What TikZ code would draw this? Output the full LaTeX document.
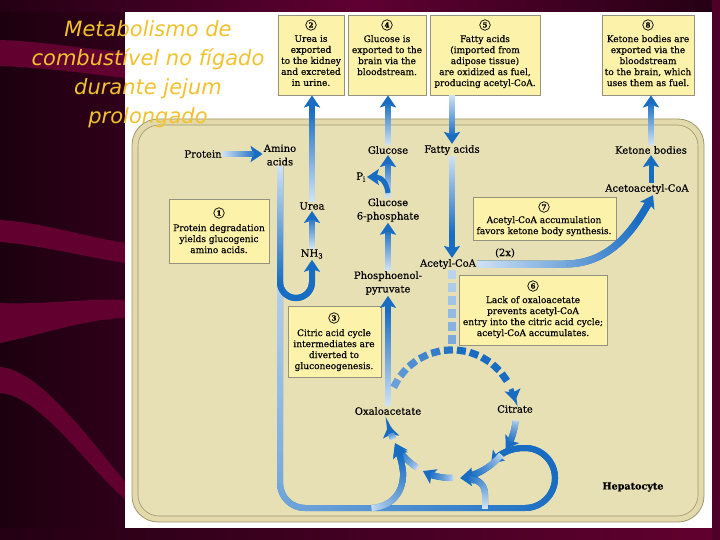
\documentclass[tikz,border=0pt]{standalone}
\usepackage{fontspec}
\setmainfont{DejaVu Serif}[FakeBold=0.35]
\newfontfamily\ttlfont{DejaVu Sans}
\usetikzlibrary{arrows.meta,decorations.markings}
\definecolor{bD}{RGB}{24,108,194}
\definecolor{bP}{RGB}{208,226,245}
\definecolor{bM}{RGB}{110,162,218}
\definecolor{bL}{RGB}{190,214,240}
\definecolor{bgd}{RGB}{36,0,20}
\definecolor{bgl}{RGB}{28,0,14}
\definecolor{bgr}{RGB}{48,0,26}
\definecolor{mar}{RGB}{98,0,48}
\definecolor{marT}{RGB}{96,0,50}
\definecolor{cellout}{RGB}{226,218,172}
\definecolor{cellin}{RGB}{231,224,180}
\definecolor{cellline}{RGB}{160,150,108}
\definecolor{boxfill}{RGB}{252,242,170}
\definecolor{boxline}{RGB}{150,146,128}
\definecolor{ttl}{RGB}{242,194,46}
\newcommand\gk{1.15}
\newcommand\gp{1}
\tikzset{
  gk/.code={\def\gk{#1}},
  gp/.code={\def\gp{#1}},
  g/.style={line width=#1, draw=bD, -{Stealth[width=16pt,length=12pt,inset=2.5pt]},
    postaction={decorate, decoration={markings,
      mark=between positions 0 and -9pt step 0.6pt with {%
        \pgfmathsetmacro\gt{100*(min(1,\gk*\pgfkeysvalueof{/pgf/decoration/mark info/distance from start}/\pgfdecoratedpathlength))^\gp}%
        \fill[bD!\gt!bP] (-0.5pt,-0.5*#1) rectangle (0.5pt,0.5*#1);}}}},
  g/.default=6pt,
  gs/.style={line width=5pt, draw=bD, -{Stealth[width=16pt,length=12pt,inset=2.5pt]}},
  gdash/.style 2 args={postaction={decorate, decoration={markings,
      mark=between positions 4pt and 1 step 13pt with {%
        \pgfmathsetmacro\gt{100*(min(1,\gk*\pgfkeysvalueof{/pgf/decoration/mark info/distance from start}/\pgfdecoratedpathlength))^\gp}%
        \fill[#2!\gt!#1] (-4.5pt,-3.6pt) rectangle (4.5pt,3.6pt);}}}},
  lab/.style={inner sep=1pt, font=\fontsize{10}{13.5}\selectfont, align=center},
  box/.style={draw=boxline, fill=boxfill, line width=0.8pt, inner sep=0pt},
  btxt/.style={inner sep=0pt, font=\fontsize{9}{11}\selectfont, align=center},
  cnum/.style={circle, draw, line width=0.7pt, inner sep=0pt, minimum size=10.5pt, font=\bfseries\fontsize{7}{7}\selectfont},
  cyc/.style={g, gk=1.2, gp=0.6},
}
\begin{document}
\begin{tikzpicture}[x=1pt,y=-1pt]
\useasboundingbox (0,0) rectangle (720,540);
% background
\fill[bgd] (0,0) rectangle (720,540);
\shade[left color=bgl, right color=bgr] (0,0) rectangle (125,540);
\shade[left color=bgd, right color=bgd, middle color=marT] (0,0) rectangle (720,12);
\shade[left color=bgd, right color=mar] (0,528) rectangle (720,540);
\fill[mar] (0,40) .. controls (50,42) and (90,50) .. (126,52) -- (126,78) .. controls (90,74) and (50,68) .. (0,66) -- cycle;
\fill[mar] (0,220) .. controls (40,222) and (90,238) .. (126,243) -- (126,263) .. controls (90,258) and (40,245) .. (0,242) -- cycle;
\fill[mar] (0,303) .. controls (40,305) and (90,298) .. (126,300) -- (126,318) .. controls (90,318) and (40,335) .. (0,343) -- cycle;
\fill[mar] (0,367) .. controls (40,370) and (90,440) .. (126,483) -- (126,500) .. controls (90,470) and (40,395) .. (0,393) -- cycle;
\fill[mar!70!bgd] (712,0) rectangle (720,540);
\fill[white] (125,12) rectangle (712,528);
% cell
\draw[cellline, fill=cellout, line width=0.8pt, rounded corners=26pt] (132,119) rectangle (704,522);
\draw[cellline, fill=cellin, line width=0.6pt, rounded corners=21pt] (138,125) rectangle (698,516);
% boxes
\node[box, minimum width=66pt, minimum height=80pt] (b2) at (311,55) {};
\node[cnum] (n2) at (311,25) {2};
\node[btxt, anchor=north] (t2) at (311,35) {Urea is\\exported\\to the kidney\\and excreted\\in urine.};
\node[box, minimum width=78pt, minimum height=80pt] (b4) at (387,55) {};
\node[cnum] (n4) at (387,25) {4};
\node[btxt, anchor=north] (t4) at (387,35) {Glucose is\\exported to the\\brain via the\\bloodstream.};
\node[box, minimum width=110pt, minimum height=80pt] (b5) at (485,55) {};
\node[cnum] (n5) at (485,25) {5};
\node[btxt, anchor=north] (t5) at (485,35) {Fatty acids\\(imported from\\adipose tissue)\\are oxidized as fuel,\\producing acetyl-CoA.};
\node[box, minimum width=92pt, minimum height=80pt] (b8) at (648,55) {};
\node[cnum] (n8) at (648,25) {8};
\node[btxt, anchor=north] (t8) at (648,35) {Ketone bodies are\\exported via the\\bloodstream\\to the brain, which\\uses them as fuel.};
\node[box, minimum width=100pt, minimum height=64pt] (b1) at (219,231) {};
\node[cnum] (n1) at (219,213) {1};
\node[btxt, anchor=north] (t1) at (219,224) {Protein degradation\\yields glucogenic\\amino acids.};
\node[box, minimum width=143pt, minimum height=43pt] (b7) at (544.5,218.5) {};
\node[cnum] (n7) at (544,207) {7};
\node[btxt, anchor=north] (t7) at (544,216) {Acetyl-CoA accumulation\\favors ketone body synthesis.};
\node[box, minimum width=148pt, minimum height=70pt] (b6) at (533,310) {};
\node[cnum] (n6) at (533,286) {6};
\node[btxt, anchor=north] (t6) at (533,296) {Lack of oxaloacetate\\prevents acetyl-CoA\\entry into the citric acid cycle;\\acetyl-CoA accumulates.};
\node[box, minimum width=93pt, minimum height=71pt] (b3) at (334.5,341.5) {};
\node[cnum] (n3) at (334,318) {3};
\node[btxt, anchor=north] (t3) at (334,329) {Citric acid cycle\\intermediates are\\diverted to\\gluconeogenesis.};
% labels
\node[lab] (protein) at (203,154) {Protein};
\node[lab] (amino) at (280,155) {Amino\\acids};
\node[lab] (glc) at (388,150) {Glucose};
\node[lab] (fa) at (452,150) {Fatty acids};
\node[lab] (kb) at (651,150) {Ketone bodies};
\node[lab] (pi) at (361,177) {P\textsubscript{i}};
\node[lab] (urea) at (312,206) {Urea};
\node[lab] (g6p) at (388,210) {Glucose\\6-phosphate};
\node[lab] (aacoa) at (647,189) {Acetoacetyl-CoA};
\node[lab] (twox) at (505,253) {(2x)};
\node[lab] (nh3) at (312,254) {NH\textsubscript{3}};
\node[lab] (acoa) at (448,264) {Acetyl-CoA};
\node[lab] (pep) at (388,283) {Phosphoenol-\\pyruvate};
\node[lab] (oaa) at (388,411) {Oxaloacetate};
\node[lab] (cit) at (515,409) {Citrate};
\node[lab, font=\bfseries\fontsize{9.6}{11}\selectfont] (hep) at (633,487) {Hepatocyte};
% coordinates
\coordinate (cc) at (452,414);
\coordinate (ctop) at (452,350);
\coordinate (pibr) at (388,193);
\coordinate (j1) at (485,508);
\coordinate (j2) at (372,508);
% arrows
\draw[g] (protein.east) -- (amino.west |- protein.east);
\draw[g] (urea.north) -- (urea.north |- b2.south);
\draw[g] (nh3.north) -- (urea.south);
\draw[g, gp=1.1] (amino.south) -- (280,483) arc[start angle=180, end angle=90, radius=25] -- (525,508) arc[start angle=90, end angle=-90, radius=30] .. controls (508,448) and (499,455) .. (491,464);
\draw[g, gk=1.6] (amino.south) -- (280,282) arc[start angle=180, end angle=0, radius=16] -- (nh3.south);
\draw[g] (glc.north) -- (glc.north |- b4.south);
\draw[g] (fa.north |- b5.south) -- (fa.north);
\draw[g] (kb.north) -- (kb.north |- b8.south);
\draw[g] (g6p.north) -- (glc.south);
\draw[gs] (pibr) .. controls (387,184) and (382,177) .. (pi.east);
\draw[g] (pep.north) -- (g6p.south);
\draw[g, gk=1.3] (fa.south) -- (fa.south |- acoa.north);
\draw[g=7pt] (acoa.east) -- (565,264) .. controls (610,264) and (634,230) .. ([xshift=6pt]aacoa.south);
\draw[gs] (aacoa.north -| kb.south) -- (kb.south);
\draw[g] (oaa.north) -- (pep.south);
% citric acid cycle
\path[gdash={bL}{bM}, gk=1] (acoa.south -| ctop) -- (ctop);
\path[gdash={bM}{bD}, gk=1.8] ([shift={(205:64)}]cc) arc[start angle=205, end angle=336, radius=64];
\draw[gs] ([shift={(337:64)}]cc) arc[start angle=337, end angle=349, radius=64];
\draw[cyc] ([shift={(6:64)}]cc) arc[start angle=6, end angle=33, radius=64];
\draw[cyc] ([shift={(40:64)}]cc) arc[start angle=40, end angle=82, radius=64];
\draw[cyc] ([shift={(89:64)}]cc) arc[start angle=89, end angle=117, radius=64];
\draw[cyc] ([shift={(123:64)}]cc) arc[start angle=123, end angle=153, radius=64];
\draw[cyc] ([shift={(157:64)}]cc) arc[start angle=157, end angle=170, radius=64];
\draw[g] (j1) -- (485,494) .. controls (485,482) and (474,478) .. (460,478);
\draw[g, gp=0.7] (j2) .. controls (394,506) and (404,490) .. (403,472) .. controls (402,462) and (399,453) .. (395,445);
% title
\node[font=\ttlfont\itshape\fontsize{21}{29}\selectfont, text=ttl, align=center] (title) at (148,74) {Metabolismo de\\combustível no fígado\\durante jejum\\prolongado};
\end{tikzpicture}
\end{document}
